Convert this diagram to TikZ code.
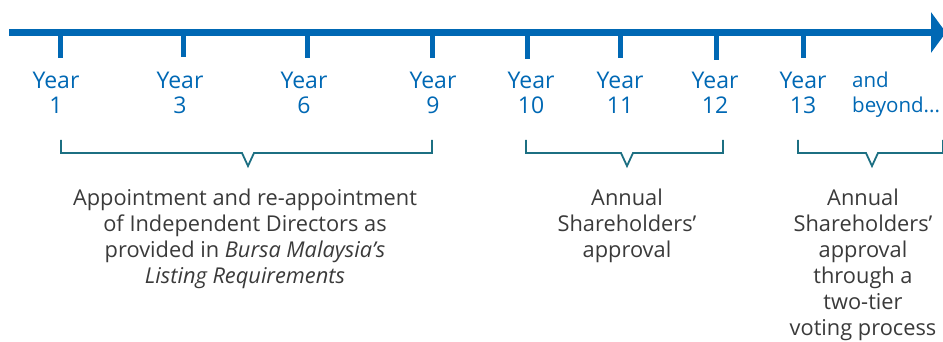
\documentclass[tikz,border=0pt]{standalone}
\usepackage{fontspec}
\setmainfont{Open Sans}
\usetikzlibrary{arrows.meta,positioning}
\definecolor{lineblue}{HTML}{0068B4}
\definecolor{braceteal}{HTML}{1C6F82}
\definecolor{notegray}{HTML}{3A3A3A}
\tikzset{
  axis/.style={
    line width=7pt,
    lineblue,
    -{Triangle[length=15pt,width=40pt]}
  },
  tick/.style={
    line width=5pt,
    lineblue
  },
  year/.style={
    anchor=north,
    align=center,
    inner sep=0pt,
    text=lineblue,
    font=\fontsize{23}{25}\selectfont
  },
  note/.style={
    anchor=north,
    align=center,
    inner sep=0pt,
    text=notegray,
    font=\fontsize{21.8}{26}\selectfont
  },
  bracket/.style={
    line width=1.8pt,
    braceteal
  }
}

\begin{document}
\begin{tikzpicture}[x=1pt,y=-1pt]
\useasboundingbox (0,0) rectangle (943,342);

% --- timeline ---
\coordinate (start) at (9,32.5);
\coordinate (finish) at (946,32.5);
\draw[axis] (start) -- (finish);

\draw[tick] (60,33) -- (60,58);
\draw[tick] (183,33) -- (183,57);
\draw[tick] (307,33) -- (307,58);
\draw[tick] (432,33) -- (432,58);
\draw[tick] (527,33) -- (527,59);
\draw[tick] (620,33) -- (620,58);
\draw[tick] (716,33) -- (716,60);
\draw[tick] (803,33) -- (803,58);

% --- year labels ---
\node[year] (y1) at (56,72) {Year\\1};
\node[year] (y3) at (180,72) {Year\\3};
\node[year] (y6) at (304,72) {Year\\6};
\node[year] (y9) at (433,72) {Year\\9};
\node[year] (y10) at (531,72) {Year\\10};
\node[year] (y11) at (620,72) {Year\\11};
\node[year] (y12) at (715,72) {Year\\12};
\node[year] (y13) at (803,72) {Year\\13};
\node[year, anchor=north west, align=left,
      font=\fontsize{20.5}{25}\selectfont] (beyond) at (852,72) {and\\beyond...};

% --- brackets ---
\draw[bracket] (61,140) |- (242,153) -- (248,166) -- (254,153) -| (432,140);
\draw[bracket] (526,140) |- (621,153) -- (627,166) -- (633,153) -| (723,140);
\draw[bracket] (798,140) |- (866,153) -- (872,166) -- (878,153) -| (943,140);

% --- notes ---
\node[note] (appoint) at (245,189) {Appointment and re-appointment\\
of Independent Directors as\\
provided in \textit{Bursa Malaysia’s}\\
\textit{Listing Requirements}};

\node[note] (annual) at (627,189) {Annual\\Shareholders’\\approval};

\node[note] (twotier) at (863,189) {Annual\\Shareholders’\\approval\\
through a\\two-tier\\voting process};

\end{tikzpicture}
\end{document}
